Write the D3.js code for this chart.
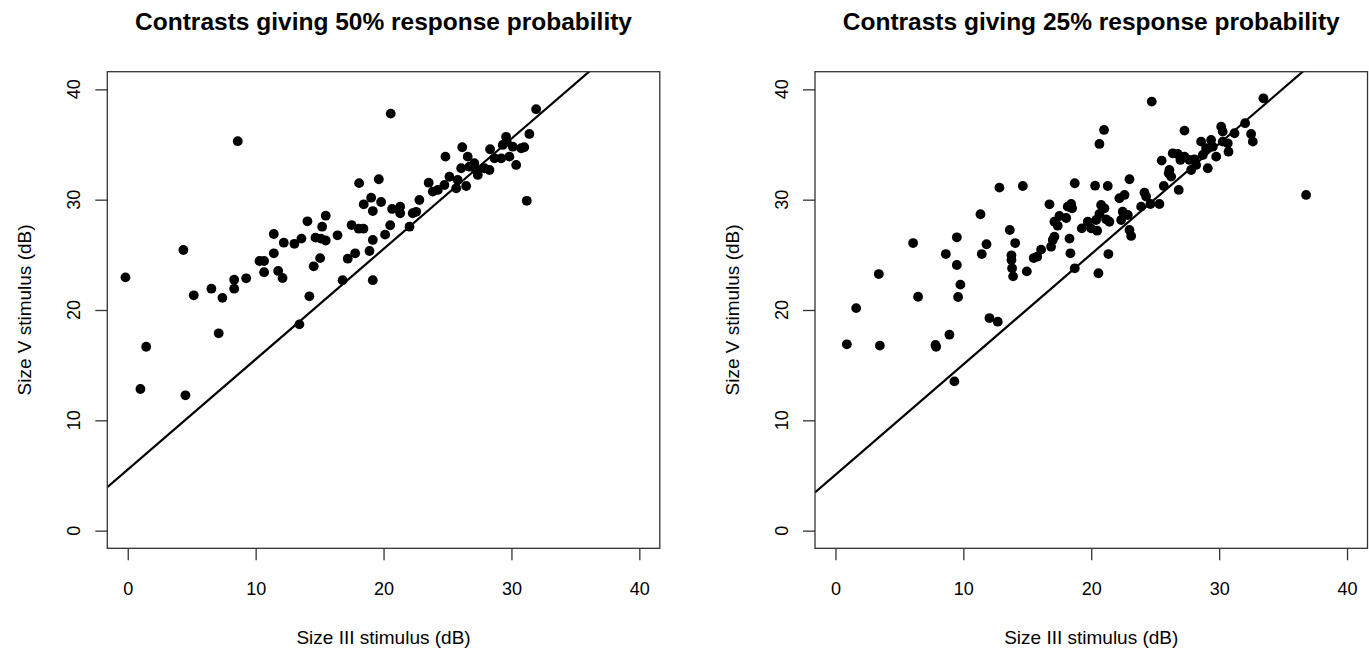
<!DOCTYPE html>
<html>
<head>
<meta charset="utf-8">
<script src="https://cdn.jsdelivr.net/npm/d3@7"></script>
<style>
  body { margin: 0; background: #fff; }
  svg { display: block; font-family: "Liberation Sans", Arial, sans-serif; }
</style>
</head>
<body>
<div id="chart"></div>
<script>
// Size III vs Size V contrasts (dB)
const x50 = [-0.18, 4.35, 8.6, 5.16, 6.54, 7.4, 8.32, 8.32, 9.26, 10.3, 10.66, 10.66, 11.42, 11.42, 11.76, 12.1,
  12.2, 13.03, 13.58, 14.05, 14.54, 14.2, 14.68, 15.04, 15.2, 15.48, 15.1, 15.48, 16.4, 16.8, 17.2, 17.78,
  17.5, 18.06, 18.43, 18.09, 18.9, 19.16, 19.16, 18.45, 19.03, 19.16, 19.63, 20.56, 19.81, 20.67, 21.3, 21.3,
  22.28, 22.55, 20.52, 20.12, 22.03, 22.8, 23.53, 23.85, 24.24, 24.76, 24.84, 25.15, 25.68, 25.8, 26.15, 26.07,
  26.46, 26.58, 26.72, 27.1, 27.24, 27.37, 27.89, 28.33, 28.28, 28.67, 29.2, 29.32, 29.58, 29.63, 29.84, 30.1,
  30.37, 30.76, 31.0, 31.4, 31.93, 31.2, 1.44, 0.99, 4.51, 7.11, 13.42];
const y50 = [22.96, 25.44, 35.3, 21.33, 21.93, 21.1, 21.93, 22.75, 22.87, 24.44, 24.44, 23.42, 26.89, 25.14, 23.54, 22.9,
  26.1, 26.0, 26.47, 28.04, 23.96, 21.24, 26.56, 24.7, 27.55, 28.55, 26.47, 26.3, 26.77, 22.7, 24.65, 25.14,
  27.7, 27.37, 27.37, 31.5, 25.35, 22.7, 26.35, 29.58, 30.18, 28.97, 31.85, 37.8, 29.79, 29.16, 29.37, 28.77,
  28.77, 28.9, 27.68, 26.83, 27.55, 29.97, 31.54, 30.73, 30.88, 31.33, 33.9, 32.08, 31.03, 31.79, 34.75, 32.85,
  31.24, 33.9, 32.99, 33.3, 32.69, 32.24, 32.85, 34.57, 32.69, 33.75, 33.75, 34.96, 35.7, 35.26, 33.9, 34.8,
  33.15, 34.66, 34.75, 35.96, 38.2, 29.9, 16.67, 12.84, 12.27, 17.89, 18.7];

const x25 = [1.62, 3.39, 6.07, 6.46, 8.63, 9.49, 9.49, 9.77, 9.59, 11.34, 11.44, 11.81, 12.82, 13.63, 14.05, 13.76,
  13.76, 13.81, 13.89, 14.65, 14.96, 15.5, 15.77, 16.08, 16.73, 16.86, 16.99, 17.12, 17.12, 17.38, 17.51, 18.04,
  18.16, 18.43, 18.5, 18.71, 18.3, 18.37, 18.71, 19.26, 0.89, 3.47, 7.82, 7.87, 8.91, 9.3, 12.04, 12.69,
  24.73, 21.0, 20.64, 27.29, 33.46, 36.8, 20.3, 21.29, 22.99, 20.77, 20.64, 21.03, 20.38, 21.16, 21.42, 19.73,
  19.99, 20.46, 21.34, 20.56, 22.2, 22.6, 22.46, 22.34, 22.86, 22.99, 23.12, 23.9, 24.16, 24.29, 24.63, 25.33,
  25.51, 25.67, 26.06, 26.25, 26.11, 26.37, 26.84, 26.76, 26.97, 27.29, 27.68, 27.81, 28.07, 28.2, 28.59, 28.72,
  28.98, 29.11, 29.37, 29.5, 29.77, 30.16, 30.28, 30.28, 30.67, 30.73, 31.2, 32.03, 32.5, 32.63];
const y25 = [20.17, 23.26, 26.07, 21.2, 25.07, 26.59, 24.08, 22.3, 21.18, 28.68, 25.07, 25.96, 31.09, 27.25, 26.07, 24.96,
  24.53, 23.78, 23.05, 31.24, 23.5, 24.71, 24.83, 25.47, 29.58, 25.74, 26.35, 26.65, 28.0, 27.64, 28.52, 28.34,
  29.37, 29.61, 29.22, 31.49, 26.47, 25.14, 23.78, 27.4, 16.89, 16.77, 16.83, 16.67, 17.76, 13.53, 19.27, 18.94,
  38.89, 36.32, 35.05, 36.26, 39.19, 30.43, 31.27, 31.24, 31.85, 29.52, 28.7, 29.22, 28.16, 28.22, 28.0, 28.0,
  27.4, 27.19, 25.07, 23.33, 30.13, 30.43, 28.91, 28.16, 28.61, 27.25, 26.71, 29.37, 30.64, 30.28, 29.61, 29.61,
  33.54, 31.24, 32.39, 32.09, 32.69, 34.2, 30.88, 34.14, 33.6, 33.9, 33.6, 32.69, 33.66, 33.15, 35.26, 34.05,
  34.66, 32.85, 35.41, 34.8, 33.9, 36.62, 36.17, 35.26, 35.11, 34.35, 36.02, 36.93, 35.96, 35.26];

// fitted lines: [intercept, slope]
const fit50 = [5.53, 1.0];
const fit25 = [5.07, 1.0];

const ticks = [0, 10, 20, 30, 40];
const titles = ["Contrasts giving 50% response probability", "Contrasts giving 25% response probability"];
const xLabel = "Size III stimulus (dB)";
const yLabel = "Size V stimulus (dB)";

const width = 1369, height = 649;
const svg = d3.select("#chart").append("svg")
    .attr("width", width)
    .attr("height", height);

function drawPanel(left, xs, ys, fit, title) {
    const right = left + 552.5, top = 71.7, bottom = 548.3;
    const x = d3.scaleLinear().domain([-1.6, 41.6]).range([left, right]);
    const y = d3.scaleLinear().domain([-1.6, 41.6]).range([bottom, top]);

    const g = svg.append("g");

    g.append("defs").append("clipPath")
        .attr("id", "clip" + Math.round(left))
        .append("rect")
        .attr("x", left).attr("y", top)
        .attr("width", right - left).attr("height", bottom - top);

    // points
    g.append("g")
        .selectAll("circle")
        .data(xs.map((d, i) => [d, ys[i]]))
        .enter().append("circle")
        .attr("cx", d => x(d[0]))
        .attr("cy", d => y(d[1]))
        .attr("r", 4.9)
        .style("fill", "#000");

    // fit line
    const [a, b] = fit;
    g.append("line")
        .attr("clip-path", "url(#clip" + Math.round(left) + ")")
        .attr("x1", x(-1.6)).attr("y1", y(a + b * -1.6))
        .attr("x2", x(41.6)).attr("y2", y(a + b * 41.6))
        .style("stroke", "#000")
        .style("stroke-width", 2.2);

    // box
    g.append("rect")
        .attr("x", left).attr("y", top)
        .attr("width", right - left).attr("height", bottom - top)
        .style("fill", "none")
        .style("stroke", "#333")
        .style("stroke-width", 1.3);

    // x axis
    const xAxis = g.append("g")
        .attr("transform", "translate(0," + bottom + ")")
        .call(d3.axisBottom(x).tickValues(ticks).tickSize(12).tickPadding(22).tickFormat(d3.format("d")));
    xAxis.select(".domain").remove();
    xAxis.selectAll("line").style("stroke", "#333").style("stroke-width", 1.3);
    xAxis.selectAll("text").style("font-size", "18px").style("fill", "#000");

    // y axis (labels parallel to axis)
    const yAxis = g.append("g")
        .attr("transform", "translate(" + left + ",0)")
        .call(d3.axisLeft(y).tickValues(ticks).tickSize(12).tickFormat(""));
    yAxis.select(".domain").remove();
    yAxis.selectAll("line").style("stroke", "#333").style("stroke-width", 1.3);

    g.append("g")
        .selectAll("text")
        .data(ticks)
        .enter().append("text")
        .attr("transform", d => "translate(" + (left - 27) + "," + y(d) + ") rotate(-90)")
        .attr("text-anchor", "middle")
        .style("font-size", "18px")
        .text(d => d);

    // axis titles
    g.append("text")
        .attr("x", (left + right) / 2)
        .attr("y", 644)
        .attr("text-anchor", "middle")
        .style("font-size", "19px")
        .text(xLabel);

    g.append("text")
        .attr("transform", "translate(" + (left - 76) + "," + (top + bottom) / 2 + ") rotate(-90)")
        .attr("text-anchor", "middle")
        .style("font-size", "19px")
        .text(yLabel);

    // title
    g.append("text")
        .attr("x", (left + right) / 2)
        .attr("y", 29.5)
        .attr("text-anchor", "middle")
        .style("font-size", "24.5px")
        .style("font-weight", "bold")
        .text(title);
}

drawPanel(107.3, x50, y50, fit50, titles[0]);
drawPanel(815.0, x25, y25, fit25, titles[1]);
</script>
</body>
</html>
